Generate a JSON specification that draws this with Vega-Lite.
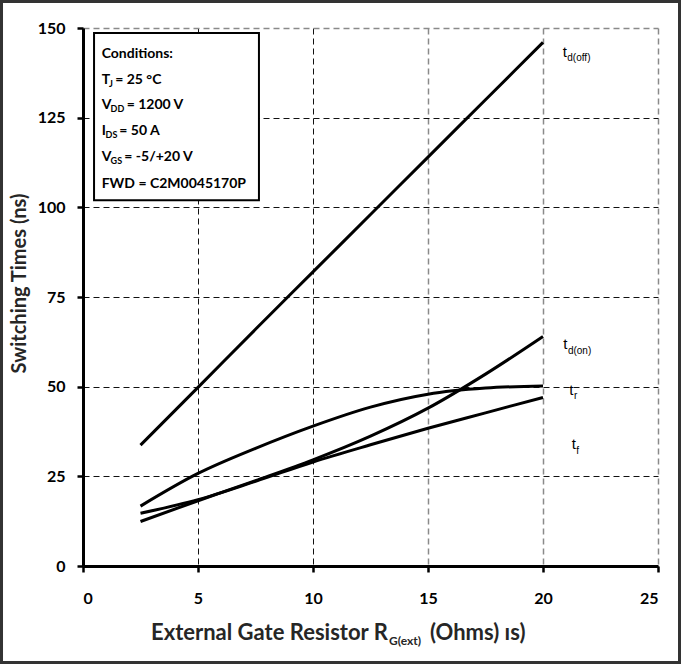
{
  "$schema": "https://vega.github.io/schema/vega-lite/v6.json",
  "width": 575,
  "height": 538,
  "autosize": {"type": "none"},
  "padding": {"left": 83, "top": 28, "right": 23, "bottom": 98},
  "background": "white",
  "config": {"view": {"stroke": null}},
  "datasets": {
    "curves": [
      {"s": "td_off", "x": 2.5, "y": 33.7}, {"s": "td_off", "x": 5, "y": 49.8}, {"s": "td_off", "x": 7.5, "y": 66}, {"s": "td_off", "x": 10, "y": 82}, {"s": "td_off", "x": 12.5, "y": 98}, {"s": "td_off", "x": 15, "y": 114}, {"s": "td_off", "x": 17.5, "y": 130}, {"s": "td_off", "x": 20, "y": 146},
      {"s": "td_on", "x": 2.5, "y": 12.4}, {"s": "td_on", "x": 5, "y": 18.2}, {"s": "td_on", "x": 7.5, "y": 23.8}, {"s": "td_on", "x": 10, "y": 29.6}, {"s": "td_on", "x": 12.5, "y": 36.2}, {"s": "td_on", "x": 15, "y": 44}, {"s": "td_on", "x": 17.5, "y": 53.5}, {"s": "td_on", "x": 20, "y": 64},
      {"s": "tr", "x": 2.5, "y": 16.7}, {"s": "tr", "x": 5, "y": 25.8}, {"s": "tr", "x": 7.5, "y": 32.8}, {"s": "tr", "x": 10, "y": 39.0}, {"s": "tr", "x": 12.5, "y": 44.3}, {"s": "tr", "x": 15, "y": 47.9}, {"s": "tr", "x": 17.5, "y": 49.6}, {"s": "tr", "x": 20, "y": 50.2},
      {"s": "tf", "x": 2.5, "y": 14.7}, {"s": "tf", "x": 5, "y": 18.5}, {"s": "tf", "x": 7.5, "y": 23.6}, {"s": "tf", "x": 10, "y": 29.0}, {"s": "tf", "x": 12.5, "y": 33.8}, {"s": "tf", "x": 15, "y": 38.4}, {"s": "tf", "x": 17.5, "y": 42.7}, {"s": "tf", "x": 20, "y": 47.0}
    ],
    "box": [{"x": 0.48, "x2": 7.65, "y": 102.0, "y2": 148.6}],
    "frame": [{"x": -3.543, "x2": 25.935, "y": 157.37, "y2": -26.91}],
    "condMain": [
      {"txt": "Conditions:", "x": 0.813, "y": 141.6},
      {"txt": "T", "x": 0.813, "y": 134.4},
      {"txt": "= 25 °C", "x": 1.4, "y": 134.4},
      {"txt": "V", "x": 0.813, "y": 127.4},
      {"txt": "= 1200 V", "x": 1.9, "y": 127.4},
      {"txt": "I", "x": 0.813, "y": 120.2},
      {"txt": "= 50 A", "x": 1.58, "y": 120.2},
      {"txt": "V", "x": 0.813, "y": 112.9},
      {"txt": "= -5/+20 V", "x": 1.796, "y": 112.9},
      {"txt": "FWD = C2M0045170P", "x": 0.813, "y": 105.4}
    ],
    "condSub": [
      {"txt": "J", "x": 1.13, "y": 134.4},
      {"txt": "DD", "x": 1.2, "y": 127.4},
      {"txt": "DS", "x": 0.98, "y": 120.2},
      {"txt": "GS", "x": 1.2, "y": 112.9}
    ],
    "curveLabels": [
      {"t": "t", "sub": "d(off)", "x": 20.857, "y": 142.0},
      {"t": "t", "sub": "d(on)", "x": 20.883, "y": 60.42},
      {"t": "t", "sub": "r", "x": 21.143, "y": 47.68},
      {"t": "t", "sub": "f", "x": 21.248, "y": 32.54}
    ],
    "xTitleMain": [
      {"txt": "External Gate Resistor R", "x": 2.957, "y": -20.63},
      {"txt": "(Ohms) ıs)", "x": 15.087, "y": -20.63}
    ],
    "xTitleSub": [
      {"txt": "G(ext)", "x": 13.304, "y": -20.63}
    ]
  },
  "encoding": {
    "x": {
      "field": "x", "type": "quantitative",
      "scale": {"domain": [0, 25], "nice": false, "zero": false},
      "axis": {
        "values": [0, 5, 10, 15, 20, 25],
        "title": null,
        "grid": true,
        "gridDash": [6, 4],
        "gridColor": {"condition": {"test": "datum.value >= 15", "value": "#8a8a8a"}, "value": "#111111"},
        "gridWidth": {"condition": {"test": "datum.value >= 15", "value": 1.5}, "value": 1},
        "domainColor": "#000000", "domainWidth": 3,
        "tickColor": "#000000", "tickWidth": 2.5, "tickSize": 6,
        "labelFont": "Lato", "labelFontSize": 16, "labelFontWeight": "bold", "labelColor": "#000000",
        "labelPadding": 18
      }
    },
    "y": {
      "field": "y", "type": "quantitative",
      "scale": {"domain": [0, 150], "nice": false, "zero": false},
      "axis": {
        "values": [0, 25, 50, 75, 100, 125, 150],
        "title": "Switching Times (ns)",
        "titleFont": "Lato", "titleFontSize": 20, "titleFontWeight": "bold", "titleColor": "#262626",
        "titleAngle": -90, "titleAlign": "center", "titleBaseline": "middle",
        "titleX": -64, "titleY": 255,
        "grid": true,
        "gridDash": [6, 4],
        "gridColor": {"condition": {"test": "datum.value >= 150", "value": "#8a8a8a"}, "value": "#111111"},
        "gridWidth": {"condition": {"test": "datum.value >= 150", "value": 1.5}, "value": 1},
        "domainColor": "#000000", "domainWidth": 3,
        "tickColor": "#000000", "tickWidth": 2.5, "tickSize": 6,
        "labelFont": "Lato", "labelFontSize": 16, "labelFontWeight": "bold", "labelColor": "#000000",
        "labelPadding": 12
      }
    }
  },
  "layer": [
    {
      "data": {"name": "curves"},
      "mark": {"type": "line", "color": "#000000", "strokeWidth": 3, "interpolate": "monotone"},
      "encoding": {"detail": {"field": "s"}}
    },
    {
      "data": {"name": "box"},
      "mark": {"type": "rect", "fill": "#ffffff", "stroke": "#000000", "strokeWidth": 2},
      "encoding": {"x2": {"field": "x2"}, "y2": {"field": "y2"}}
    },
    {
      "data": {"name": "condMain"},
      "mark": {"type": "text", "align": "left", "baseline": "alphabetic", "font": "Lato", "fontSize": 14, "fontWeight": "bold", "color": "#000000"},
      "encoding": {"text": {"field": "txt"}}
    },
    {
      "data": {"name": "condSub"},
      "mark": {"type": "text", "align": "left", "baseline": "alphabetic", "font": "Lato", "fontSize": 9, "fontWeight": "bold", "color": "#000000", "dy": 3},
      "encoding": {"text": {"field": "txt"}}
    },
    {
      "data": {"name": "curveLabels"},
      "mark": {"type": "text", "align": "left", "baseline": "alphabetic", "font": "Liberation Sans", "fontSize": 15, "color": "#000000"},
      "encoding": {"text": {"field": "t"}}
    },
    {
      "data": {"name": "curveLabels"},
      "mark": {"type": "text", "align": "left", "baseline": "alphabetic", "font": "Liberation Sans", "fontSize": 10, "color": "#000000", "dx": 4.6, "dy": 4.5},
      "encoding": {"text": {"field": "sub"}}
    },
    {
      "data": {"name": "xTitleMain"},
      "mark": {"type": "text", "align": "left", "baseline": "alphabetic", "font": "Lato", "fontSize": 22, "fontWeight": "bold", "color": "#262626"},
      "encoding": {"text": {"field": "txt"}}
    },
    {
      "data": {"name": "xTitleSub"},
      "mark": {"type": "text", "align": "left", "baseline": "alphabetic", "font": "Lato", "fontSize": 12, "fontWeight": "bold", "color": "#262626", "dy": 5},
      "encoding": {"text": {"field": "txt"}}
    },
    {
      "data": {"name": "frame"},
      "mark": {"type": "rect", "fill": null, "stroke": "#333333", "strokeWidth": 3},
      "encoding": {"x2": {"field": "x2"}, "y2": {"field": "y2"}}
    }
  ]
}
